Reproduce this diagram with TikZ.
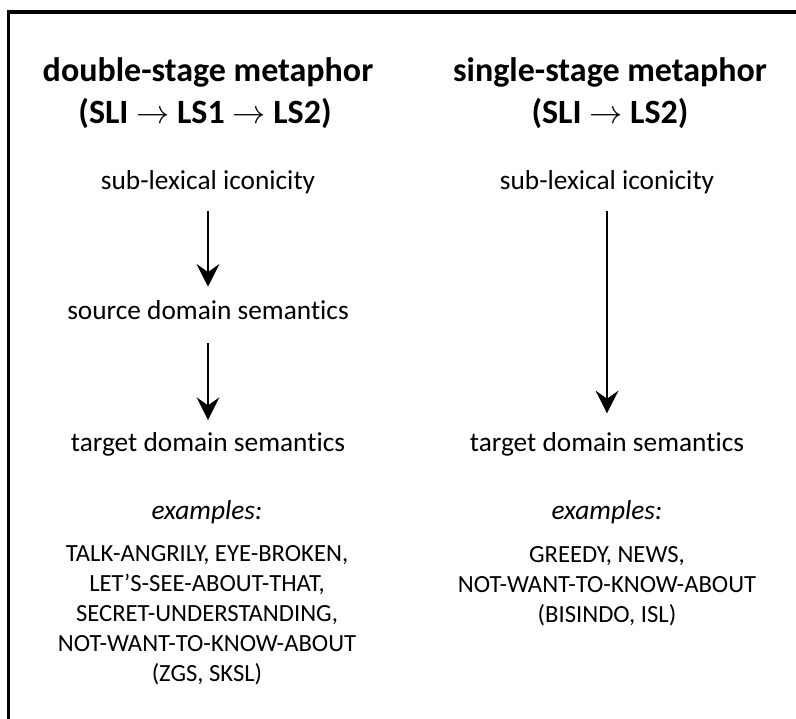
\documentclass[tikz,border=0pt]{standalone}
\usepackage{fontspec}
\setmainfont{Carlito}[Ligatures=NoCommon]
\usepackage{tikz}
\usetikzlibrary{arrows.meta,positioning}
\tikzstyle{hdr}  = [inner sep=0pt, align=center, font=\fontsize{25.5}{30}\selectfont\bfseries]
\tikzstyle{lbl}  = [inner sep=0pt, text height=14pt, text depth=5pt,
                    align=center, font=\fontsize{20.5}{24}\selectfont]
\tikzstyle{exs}  = [inner sep=0pt, align=center, font=\fontsize{18.5}{22.5}\selectfont]
\tikzstyle{flow} = [-{Stealth[length=17pt,width=17pt,inset=6pt]}, line width=2.2pt,
                    shorten <=11pt, shorten >=10pt]

\begin{document}
\begin{tikzpicture}[x=0.75pt, y=-0.75pt]
  \useasboundingbox (0,0) rectangle (796,718);

  % frame
  \draw[line width=2.6pt] (8.5,730) -- (8.5,12) -- (810,12);

  % double-stage column
  \node[hdr] (dsT) at (208,72)  {double-stage metaphor};
  \node[hdr] (dsS) at (205,113) {(SLI $\rightarrow$ LS1 $\rightarrow$ LS2)};
  \node[lbl] (dsA) at (208,183) {sub-lexical iconicity};
  \node[lbl] (dsB) at (208,313) {source domain semantics};
  \node[lbl] (dsC) at (208,445) {target domain semantics};
  \node[lbl] (dsE) at (207,513) {\itshape examples:};
  \node[exs] (dsL) at (207,615) {TALK-ANGRILY, EYE-BROKEN,\\LET’S-SEE-ABOUT-THAT,\\SECRET-UNDERSTANDING,\\NOT-WANT-TO-KNOW-ABOUT\\(ZGS, SKSL)};

  \draw[flow] (dsA) -- (dsB);
  \draw[flow, shorten <=13pt, shorten >=9pt] (dsB) -- (dsC);

  % single-stage column
  \node[hdr] (ssT) at (610,72)  {single-stage metaphor};
  \node[hdr] (ssS) at (610,113) {(SLI $\rightarrow$ LS2)};
  \node[lbl] (ssA) at (607,183) {sub-lexical iconicity};
  \node[lbl] (ssC) at (607,445) {target domain semantics};
  \node[lbl] (ssE) at (607,513) {\itshape examples:};
  \node[exs] (ssL) at (607,586) {GREEDY, NEWS,\\NOT-WANT-TO-KNOW-ABOUT\\(BISINDO, ISL)};

  \draw[flow, shorten >=14pt] (ssA) -- (ssC);

\end{tikzpicture}
\end{document}
